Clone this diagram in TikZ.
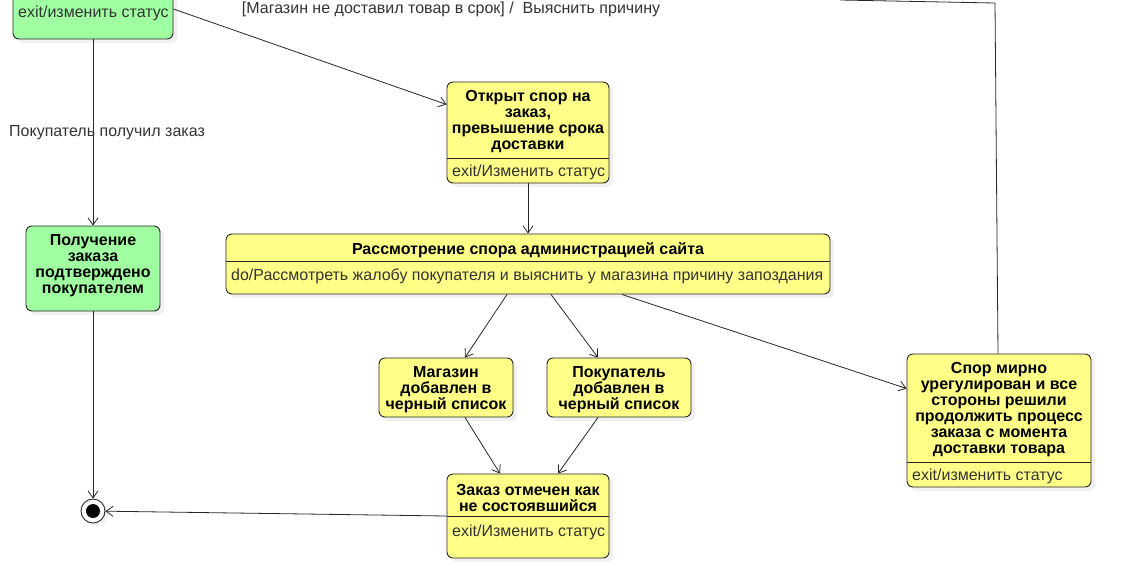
\documentclass[tikz,border=0pt]{standalone}
\usepackage{fontspec}
\setmainfont{Liberation Sans}
\usetikzlibrary{arrows.meta,shadows}
\definecolor{stateyellow}{HTML}{FFFF88}
\definecolor{stategreen}{HTML}{A0FFA0}
\definecolor{textgray}{HTML}{333333}

\begin{document}
\begin{tikzpicture}[x=1pt, y=-1pt,
    box/.style={draw=black!85, line width=0.9pt, rounded corners=6pt, fill=stateyellow,
        drop shadow={shadow xshift=4pt, shadow yshift=-4pt, opacity=0.12}},
    gbox/.style={box, fill=stategreen},
    title/.style={font=\bfseries\fontsize{16}{16}\selectfont, align=center, inner sep=0pt, yshift=-2pt},
    act/.style={font=\fontsize{16}{16}\selectfont, text=textgray, inner sep=0pt, anchor=west, yshift=-2pt},
    lbl/.style={font=\fontsize{16}{16}\selectfont, text=textgray, inner sep=0pt},
    sep/.style={draw=black!85, line width=0.9pt},
    tr/.style={draw=black!85, line width=0.8pt, -{Straight Barb[length=7pt, width=10pt]}},
    line/.style={draw=black!85, line width=0.8pt}]
    \clip (0,0) rectangle (1126,582);

    % Nodes
    \node[gbox, minimum width=160pt, minimum height=60pt] (gtop) at (93,9) {};
    \node[act] (gtopa) at (18,11) {exit/изменить статус};

    \node[box, minimum width=162pt, minimum height=101pt] (open) at (528,132.5) {};
    \node[title] (opent) at (528,120) {Открыт спор на\\заказ,\\превышение срока\\доставки};
    \node[act] (opena) at (452,170) {exit/Изменить статус};

    \node[gbox, minimum width=134pt, minimum height=85pt] (gbot) at (93,268.5) {};
    \node[title] (gbott) at (93,264) {Получение\\заказа\\подтверждено\\покупателем};

    \node[box, minimum width=604pt, minimum height=60pt] (review) at (528,264) {};
    \node[title] (reviewt) at (528,248) {Рассмотрение спора администрацией сайта};
    \node[act] (reviewa) at (231,274) {do/Рассмотреть жалобу покупателя и выяснить у магазина причину запоздания};

    \node[box, minimum width=134pt, minimum height=59pt] (shop) at (446,387.5) {};
    \node[title] (shopt) at (446,388) {Магазин\\добавлен в\\черный список};

    \node[box, minimum width=144pt, minimum height=59pt] (buyer) at (619,387.5) {};
    \node[title] (buyert) at (619,388) {Покупатель\\добавлен в\\черный список};

    \node[box, minimum width=184pt, minimum height=133pt] (peace) at (999,420.5) {};
    \node[title] (peacet) at (999,408) {Спор мирно\\урегулирован и все\\стороны решили\\продолжить процесс\\заказа с момента\\доставки товара};
    \node[act] (peacea) at (912,474) {exit/изменить статус};

    \node[box, minimum width=162pt, minimum height=84pt] (cancel) at (528,516) {};
    \node[title] (cancelt) at (528,496) {Заказ отмечен как\\не состоявшийся};
    \node[act] (cancela) at (452,530) {exit/Изменить статус};

    \node[circle, draw=black!85, line width=0.9pt, fill=white, minimum size=24pt, inner sep=0pt,
        drop shadow={shadow xshift=3pt, shadow yshift=-3pt, opacity=0.12}] (fin) at (93,511) {};
    \node[circle, fill=black, minimum size=14pt, inner sep=0pt] (fini) at (fin) {};

    \coordinate (bend) at (995,3);
    \coordinate (up) at (840,0);

    % Separators
    \draw[sep] (open.west |- 0,158) -- (open.east |- 0,158);
    \draw[sep] (review.west |- 0,261) -- (review.east |- 0,261);
    \draw[sep] (peace.west |- 0,462) -- (peace.east |- 0,462);
    \draw[sep] (cancel.west |- 0,516) -- (cancel.east |- 0,516);

    % Edges
    \draw[tr] (gtop.south) -- node[lbl, xshift=14pt] {Покупатель получил заказ} (gbot.north);
    \draw[tr] (gtop.east) -- ([yshift=28pt]open.west);
    \node[lbl] (toplbl) at (451,9) {[Магазин не доставил товар в срок] /\ \ Выяснить причину};
    \draw[tr] (open) -- (review);
    \draw[tr] ([xshift=-21pt]review.south) -- ([xshift=19pt]shop.north);
    \draw[tr] ([xshift=23pt]review.south) -- ([xshift=-21pt]buyer.north);
    \draw[tr] ([xshift=94pt]review.south) -- ([yshift=32pt]peace.west);
    \draw[tr] ([xshift=19pt]shop.south) -- ([xshift=-28pt]cancel.north);
    \draw[tr] ([xshift=-21pt]buyer.south) -- ([xshift=30pt]cancel.north);
    \draw[tr] (cancel.west) -- (fin);
    \draw[tr] (gbot) -- (fin);
    \draw[line] ([xshift=-1pt]peace.north) -- (bend) -- (up);
\end{tikzpicture}
\end{document}
